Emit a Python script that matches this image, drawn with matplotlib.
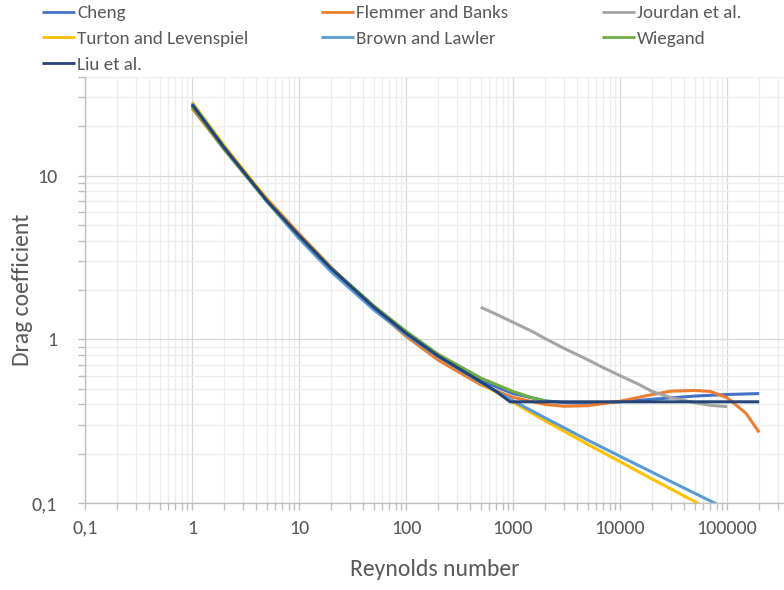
import matplotlib
matplotlib.use("Agg")
import matplotlib.pyplot as plt
from matplotlib import font_manager as fm
from matplotlib.ticker import FixedLocator, LogLocator, NullFormatter, FuncFormatter

# Calibri look-alike if present
installed = set(f.name for f in fm.fontManager.ttflist)
if 'Carlito' in installed:
    FONT, k = 'Carlito', 1.0
else:
    FONT, k = 'Lato', 0.88
plt.rcParams['font.family'] = [FONT, 'DejaVu Sans']

# values
re_cheng = [1, 2, 5, 10, 20, 50, 100, 200, 500, 1000, 2000, 3000, 5000,
            10000, 20000, 50000, 100000, 200000]
cd_cheng = [26.6, 14.47, 6.97, 4.26, 2.72, 1.59, 1.10, 0.794, 0.560, 0.466,
            0.421, 0.410, 0.407, 0.415, 0.430, 0.450, 0.460, 0.466]

re_flemmer = [1, 2, 5, 10, 20, 50, 100, 200, 500, 1000, 2000, 3000, 5000,
              10000, 20000, 30000, 50000, 70000, 100000, 150000, 200000]
cd_flemmer = [25.8, 14.48, 7.25, 4.42, 2.75, 1.542, 1.044, 0.746, 0.527, 0.442,
              0.400, 0.390, 0.393, 0.418, 0.460, 0.482, 0.487, 0.480, 0.440,
              0.354, 0.270]

re_jourdan = [500, 700, 1000, 1500, 2000, 3000, 5000, 7000, 10000, 15000,
              20000, 30000, 50000, 70000, 100000]
cd_jourdan = [1.57, 1.42, 1.27, 1.12, 1.01, 0.88, 0.75, 0.67, 0.60, 0.53,
              0.48, 0.44, 0.41, 0.395, 0.388]

re_turton = [1, 2, 5, 10, 20, 50, 100, 200, 500, 1000, 2000, 5000, 10000,
             20000, 50000, 55000]
cd_turton = [28.15, 15.27, 7.19, 4.284, 2.686, 1.565, 1.096, 0.794, 0.540,
             0.412, 0.318, 0.228, 0.179, 0.140, 0.102, 0.0985]

re_brown = [1, 2, 5, 10, 20, 50, 100, 200, 500, 1000, 2000, 5000, 10000,
            20000, 50000, 80000]
cd_brown = [27.6, 14.89, 6.95, 4.127, 2.584, 1.513, 1.068, 0.784, 0.544,
            0.421, 0.331, 0.242, 0.193, 0.154, 0.1146, 0.0986]

re_wiegand = [1, 2, 5, 10, 20, 50, 100, 200, 500, 1000, 1500, 2000]
cd_wiegand = [26.5, 14.5, 7.0, 4.3, 2.72, 1.60, 1.12, 0.81, 0.58, 0.48,
              0.44, 0.42]

re_liu = [1, 2, 5, 10, 20, 50, 100, 200, 500, 700, 940, 10000, 100000, 200000]
cd_liu = [27.2, 14.8, 7.05, 4.3, 2.70, 1.57, 1.09, 0.79, 0.55, 0.48, 0.415,
          0.415, 0.415, 0.415]

series = [
    ('Cheng', re_cheng, cd_cheng, '#4472C4'),
    ('Flemmer and Banks', re_flemmer, cd_flemmer, '#ED7D31'),
    ('Jourdan et al.', re_jourdan, cd_jourdan, '#A5A5A5'),
    ('Turton and Levenspiel', re_turton, cd_turton, '#FFC000'),
    ('Brown and Lawler', re_brown, cd_brown, '#5B9BD5'),
    ('Wiegand', re_wiegand, cd_wiegand, '#70AD47'),
    ('Liu et al.', re_liu, cd_liu, '#264478'),
]

x_ticks = [0.1, 1, 10, 100, 1000, 10000, 100000]
y_ticks = [0.1, 1, 10]

W, H = 784, 590
fig = plt.figure(figsize=(W / 100, H / 100), dpi=100)
ax = fig.add_axes([85 / W, (H - 503) / H, (W - 85) / W, (503 - 77) / H])

handles = {}
for name, xs, ys, col in series:
    ln, = ax.plot(xs, ys, color=col, lw=2.2, solid_capstyle='butt')
    handles[name] = ln

ax.set_xscale('log')
ax.set_yscale('log')
ax.set_xlim(0.1, 3.41e5)
ax.set_ylim(0.1, 40)

def fmt(v, pos=None):
    if v < 1:
        return '{:g}'.format(v).replace('.', ',')
    return '{:d}'.format(int(round(v)))

ax.xaxis.set_major_locator(FixedLocator(x_ticks))
ax.yaxis.set_major_locator(FixedLocator(y_ticks))
ax.xaxis.set_major_formatter(FuncFormatter(fmt))
ax.yaxis.set_major_formatter(FuncFormatter(fmt))
ax.xaxis.set_minor_locator(LogLocator(base=10, subs=range(2, 10), numticks=20))
ax.yaxis.set_minor_locator(LogLocator(base=10, subs=range(2, 10), numticks=20))
ax.xaxis.set_minor_formatter(NullFormatter())
ax.yaxis.set_minor_formatter(NullFormatter())

ax.grid(which='major', color='#D9D9D9', lw=0.9)
ax.grid(which='minor', color='#EDEDED', lw=0.9)
ax.set_axisbelow(True)

for s in ['top', 'right']:
    ax.spines[s].set_visible(False)
for s in ['left', 'bottom']:
    ax.spines[s].set_color('#BFBFBF')
    ax.spines[s].set_linewidth(1.0)

ax.tick_params(which='both', direction='out', color='#BFBFBF', width=1.0,
               labelcolor='#595959', labelsize=14.5 * k, length=5)
ax.tick_params(axis='x', which='major', pad=7)
ax.tick_params(axis='y', which='major', pad=15)

ax.set_xlabel('Reynolds number', fontsize=17 * k, color='#595959', labelpad=16)
ax.set_ylabel('Drag coefficient', fontsize=17 * k, color='#595959', labelpad=-1)

columns = [
    (42, ['Cheng', 'Turton and Levenspiel', 'Liu et al.']),
    (321, ['Flemmer and Banks', 'Brown and Lawler']),
    (602, ['Jourdan et al.', 'Wiegand']),
]
for x0, names in columns:
    leg = fig.legend([handles[n] for n in names], names,
                     loc='upper left', bbox_to_anchor=(x0 / W, 1 - 5 / H),
                     frameon=False, fontsize=13.7 * k, handlelength=1.75,
                     handletextpad=0.1, labelspacing=0.5, borderaxespad=0,
                     borderpad=0)
    for t in leg.get_texts():
        t.set_color('#595959')
    for l in leg.get_lines():
        l.set_linewidth(2.0)

fig.savefig('out.png', dpi=100)
